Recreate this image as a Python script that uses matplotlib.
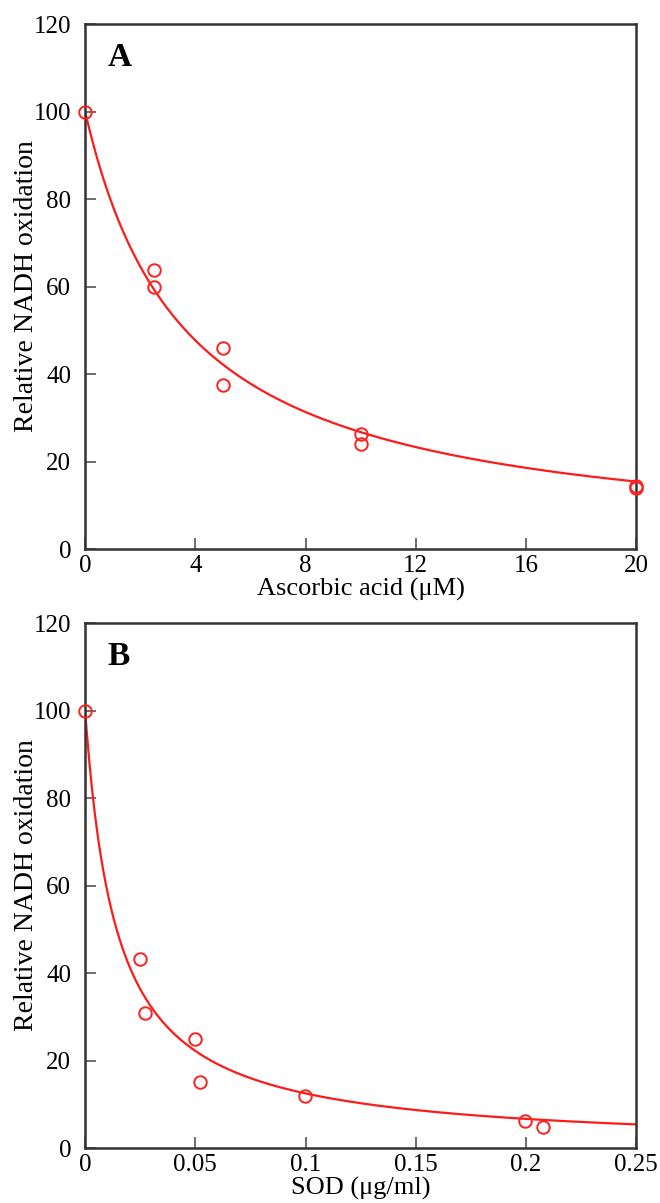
import matplotlib
matplotlib.use('Agg')
import matplotlib.pyplot as plt
import numpy as np

plt.rcParams['font.family'] = ['Liberation Serif', 'DejaVu Serif']

# panel A: ascorbic acid
asc_x = [0, 2.5, 2.5, 5, 5, 10, 10, 20, 20]
asc_y = [100, 63.8, 59.8, 46.0, 37.4, 26.3, 24.0, 14.3, 13.9]
asc_ticks = [0, 4, 8, 12, 16, 20]

# panel B: SOD
sod_x = [0, 0.025, 0.027, 0.0499, 0.052, 0.0998, 0.1996, 0.2078]
sod_y = [100, 43.3, 30.9, 24.9, 15.2, 11.9, 6.2, 4.9]
sod_ticks = [0, 0.05, 0.1, 0.15, 0.2, 0.25]
sod_ticklabels = ['0', '0.05', '0.1', '0.15', '0.2', '0.25']

y_ticks = [0, 20, 40, 60, 80, 100, 120]


def fit_k(x, y):
    # least squares fit of y = 100/(1+x/K) by a grid search
    x = np.asarray(x, float)
    y = np.asarray(y, float)
    ks = np.linspace(x.max() / 2000, x.max(), 20000)
    err = [np.sum((y - 100 / (1 + x / k)) ** 2) for k in ks]
    return ks[int(np.argmin(err))]


def panel(ax, x, y, xmax, xticks, xticklabels, xlabel, letter):
    k = fit_k(x, y)
    xs = np.linspace(0, xmax, 400)
    ax.plot(xs, 100 / (1 + xs / k), color='#ff1a1a', lw=1.6, zorder=2)
    ax.plot(x, y, 'o', mfc='none', mec='#ff2020', ms=9, mew=1.4,
            clip_on=False, zorder=3)
    ax.set_xlim(0, xmax)
    ax.set_ylim(0, 120)
    ax.set_xticks(xticks)
    ax.set_xticklabels(xticklabels)
    ax.set_yticks(y_ticks)
    ax.tick_params(direction='in', length=8, width=1.2, color='#555555',
                   labelsize=18, top=False, right=False)
    ax.tick_params(axis='x', pad=4)
    ax.tick_params(axis='y', pad=10)
    for s in ax.spines.values():
        s.set_linewidth(1.8)
        s.set_color('#333333')
    ax.set_xlabel(xlabel, fontsize=19, labelpad=1)
    ax.set_ylabel('Relative NADH oxidation', fontsize=20, labelpad=-4)
    ax.text(0.04, 0.965, letter, transform=ax.transAxes, fontsize=24,
            fontweight='bold', va='top', ha='left')


fig = plt.figure(figsize=(6.6, 12.03), dpi=100)
ax1 = fig.add_axes([0.129, 0.5436, 0.835, 0.4364])
ax2 = fig.add_axes([0.129, 0.0457, 0.835, 0.4364])

panel(ax1, asc_x, asc_y, 20, asc_ticks, [str(t) for t in asc_ticks],
      'Ascorbic acid (μM)', 'A')
panel(ax2, sod_x, sod_y, 0.25, sod_ticks, sod_ticklabels,
      'SOD (μg/ml)', 'B')

fig.savefig('out.png', dpi=100)
